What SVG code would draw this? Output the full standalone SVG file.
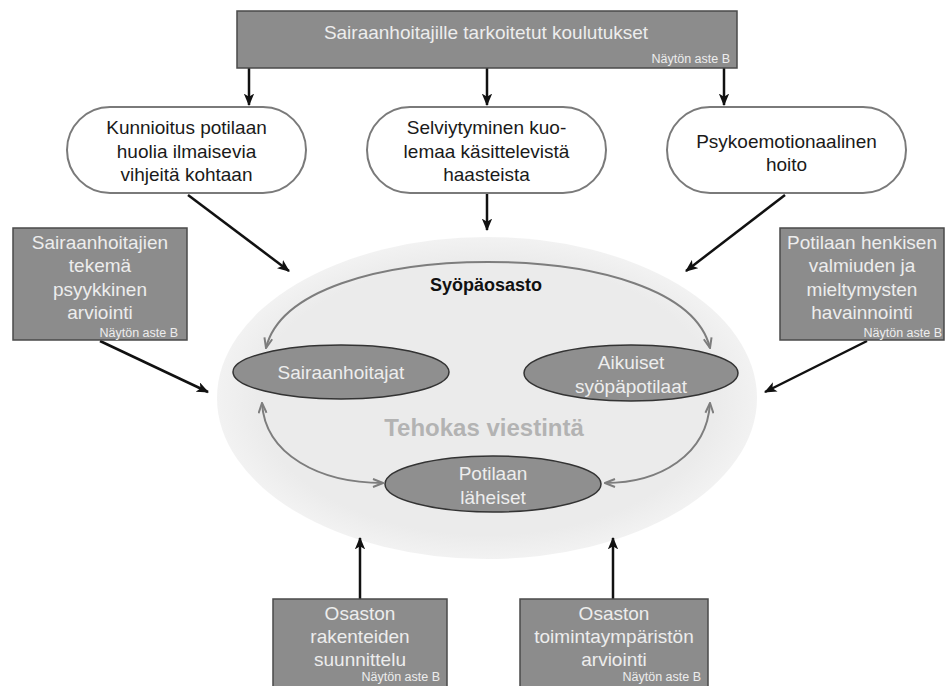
<svg xmlns="http://www.w3.org/2000/svg" width="945" height="686" viewBox="0 0 945 686">
<defs>
<style>
.t{font-family:"Liberation Sans",Arial,sans-serif;font-size:19px;text-anchor:middle}
.dark{fill:#1a1a1a}
.light{fill:#ededed}
.small{font-family:"Liberation Sans",Arial,sans-serif;font-size:12.5px;text-anchor:end;fill:#ededed}
.box{fill:#8c8c8c;stroke:#4a4a4a;stroke-width:1.5}
.pill{fill:#ffffff;stroke:#7a7a7a;stroke-width:2}
.oval{fill:#8f8f8f;stroke:#333;stroke-width:1.5}
.blk{fill:none;stroke:#111;stroke-width:2.5;marker-end:url(#ab)}
.gry{fill:none;stroke:#7d7d7d;stroke-width:2;marker-start:url(#ag);marker-end:url(#ag)}
</style>
<marker id="ab" viewBox="0 0 12 10" refX="11" refY="5" markerWidth="5" markerHeight="4.2" orient="auto" markerUnits="strokeWidth">
<path d="M0,0 L12,5 L0,10 L3,5 Z" fill="#111"/>
</marker>
<marker id="ag" viewBox="0 0 12 10" refX="11" refY="5" markerWidth="6" markerHeight="5" orient="auto-start-reverse" markerUnits="strokeWidth">
<path d="M1,1 L11,5 L1,9" fill="none" stroke="#7d7d7d" stroke-width="2"/>
</marker>
<radialGradient id="bg" cx="0.5" cy="0.5" r="0.5">
<stop offset="0.85" stop-color="#ebebeb"/>
<stop offset="1" stop-color="#f2f2f2"/>
</radialGradient>
</defs>
<rect width="945" height="686" fill="#ffffff"/>

<g id="ward">
<ellipse cx="487" cy="398" rx="270" ry="161" fill="url(#bg)"/>
<text class="t" x="486" y="291" style="font-weight:bold;font-size:18px" fill="#111">Syöpäosasto</text>
<text class="t" x="484" y="436" style="font-weight:bold;font-size:24px" fill="#b3b3b3">Tehokas viestintä</text>
</g>

<g id="connectors">
<line class="blk" x1="249" y1="68" x2="249" y2="105"/>
<line class="blk" x1="487" y1="68" x2="487" y2="105"/>
<line class="blk" x1="724" y1="68" x2="724" y2="105"/>
<line class="blk" x1="188" y1="195" x2="289" y2="271"/>
<line class="blk" x1="487" y1="194" x2="487" y2="230"/>
<line class="blk" x1="785" y1="195" x2="686" y2="271"/>
<line class="blk" x1="100" y1="341" x2="208" y2="392"/>
<line class="blk" x1="867" y1="341" x2="765" y2="392"/>
<line class="blk" x1="360" y1="599" x2="360" y2="538"/>
<line class="blk" x1="613" y1="599" x2="613" y2="538"/>
<path class="gry" d="M266 348 C280 290,380 262,488 262 C596 262,696 290,710 348"/>
<path class="gry" d="M262 403 C265 455,320 483,383 483"/>
<path class="gry" d="M710 403 C707 455,660 483,605 483"/>
</g>

<g id="top-box">
<rect class="box" x="237" y="11" width="500" height="57"/>
<text class="t light" x="486" y="39">Sairaanhoitajille tarkoitetut koulutukset</text>
<text class="small" x="730" y="63">Näytön aste B</text>
</g>

<g id="pill-left">
<rect class="pill" x="67" y="107" width="239" height="86" rx="43"/>
<text class="t dark" x="186.5" y="134">Kunnioitus potilaan</text>
<text class="t dark" x="186.5" y="158">huolia ilmaisevia</text>
<text class="t dark" x="186.5" y="181">vihjeitä kohtaan</text>
</g>

<g id="pill-middle">
<rect class="pill" x="367" y="107" width="239" height="86" rx="43"/>
<text class="t dark" x="486.5" y="134">Selviytyminen kuo-</text>
<text class="t dark" x="486.5" y="158">lemaa käsittelevistä</text>
<text class="t dark" x="486.5" y="181">haasteista</text>
</g>

<g id="pill-right">
<rect class="pill" x="667" y="107" width="239" height="86" rx="43"/>
<text class="t dark" x="786.5" y="148">Psykoemotionaalinen</text>
<text class="t dark" x="786.5" y="171">hoito</text>
</g>

<g id="box-left">
<rect class="box" x="13" y="228" width="174" height="112"/>
<text class="t light" x="100" y="249">Sairaanhoitajien</text>
<text class="t light" x="100" y="272">tekemä</text>
<text class="t light" x="100" y="296">psyykkinen</text>
<text class="t light" x="100" y="319">arviointi</text>
<text class="small" x="178" y="337">Näytön aste B</text>
</g>

<g id="box-right">
<rect class="box" x="780" y="228" width="164" height="112"/>
<text class="t light" x="862" y="249">Potilaan henkisen</text>
<text class="t light" x="862" y="272">valmiuden ja</text>
<text class="t light" x="862" y="296">mieltymysten</text>
<text class="t light" x="862" y="319">havainnointi</text>
<text class="small" x="942" y="337">Näytön aste B</text>
</g>

<g id="nurses">
<ellipse class="oval" cx="341" cy="372" rx="108" ry="27"/>
<text class="t light" x="341" y="379">Sairaanhoitajat</text>
</g>

<g id="patients">
<ellipse class="oval" cx="631" cy="373" rx="107" ry="28"/>
<text class="t light" x="631" y="369">Aikuiset</text>
<text class="t light" x="631" y="393">syöpäpotilaat</text>
</g>

<g id="relatives">
<ellipse class="oval" cx="493" cy="484" rx="108" ry="28"/>
<text class="t light" x="493" y="480">Potilaan</text>
<text class="t light" x="493" y="504">läheiset</text>
</g>

<g id="box-bottom-left">
<rect class="box" x="273" y="599" width="174" height="92"/>
<text class="t light" x="360" y="620">Osaston</text>
<text class="t light" x="360" y="643">rakenteiden</text>
<text class="t light" x="360" y="666">suunnittelu</text>
<text class="small" x="440" y="681">Näytön aste B</text>
</g>

<g id="box-bottom-right">
<rect class="box" x="520" y="599" width="188" height="92"/>
<text class="t light" x="614" y="620">Osaston</text>
<text class="t light" x="614" y="643">toimintaympäristön</text>
<text class="t light" x="614" y="666">arviointi</text>
<text class="small" x="701" y="681">Näytön aste B</text>
</g>
</svg>
